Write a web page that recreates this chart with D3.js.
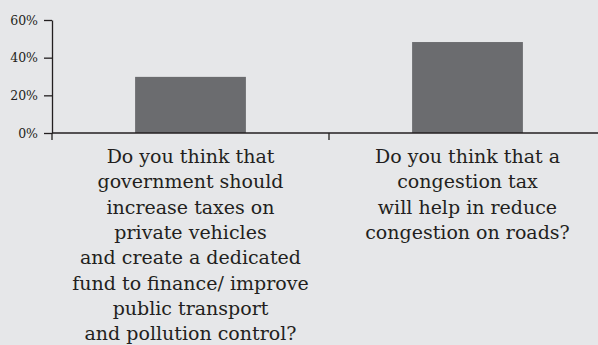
<!DOCTYPE html>
<html lang="en">
<head>
<meta charset="utf-8">
<title>Congestion tax survey</title>
<script src="https://cdn.jsdelivr.net/npm/d3@7"></script>
<style>
  body { margin: 0; background: #e6e7e9; }
  svg { display: block; }
  .axis text { font-family: "DejaVu Serif", serif; font-size: 12.5px; fill: #231f20; }
  .axis path, .axis line { stroke: #231f20; stroke-width: 1.3px; }
  .cat { font-family: "DejaVu Serif", serif; font-size: 19px; fill: #231f20; }
</style>
</head>
<body>
<div id="chart"></div>
<script>
var categories = ["q1", "q2"];
var values = [29.8, 48.3];
var labels = [
  ["Do you think that", "government should", "increase taxes on", "private vehicles",
   "and create a dedicated", "fund to finance/ improve", "public transport", "and pollution control?"],
  ["Do you think that a", "congestion tax", "will help in reduce", "congestion on roads?"]
];
var yTicks = [0, 20, 40, 60];

var width = 598, height = 345;
var margin = {left: 52, top: 20, bottom: 133};

var svg = d3.select("#chart").append("svg")
    .attr("width", width)
    .attr("height", height);

svg.append("rect").attr("width", width).attr("height", height).attr("fill", "#e6e7e9");

var x = d3.scaleBand().domain(categories).range([margin.left, 606]).padding(0);
var y = d3.scaleLinear().domain([0, 60]).range([margin.bottom, margin.top]);

// bars
svg.append("g").selectAll("rect")
    .data(values)
  .enter().append("rect")
    .attr("x", function(d, i) { return x(categories[i]) + x.bandwidth() * 0.3; })
    .attr("width", x.bandwidth() * 0.4)
    .attr("y", function(d) { return y(d); })
    .attr("height", function(d) { return y(0) - y(d); })
    .attr("fill", "#6b6c6f");

// y axis
svg.append("g")
    .attr("class", "axis")
    .attr("transform", "translate(" + margin.left + ",0)")
    .call(d3.axisLeft(y).tickValues(yTicks).tickSize(8).tickSizeOuter(0).tickPadding(6)
      .tickFormat(function(d) { return d + "%"; }));

// x axis line with ticks at band boundaries
var xAxis = svg.append("g").attr("class", "axis");
xAxis.append("line")
    .attr("x1", margin.left).attr("x2", width)
    .attr("y1", y(0)).attr("y2", y(0));
xAxis.selectAll(".bt")
    .data(categories)
  .enter().append("line")
    .attr("x1", function(d) { return x(d); })
    .attr("x2", function(d) { return x(d); })
    .attr("y1", y(0)).attr("y2", y(0) + 7);

// category labels
labels.forEach(function(lines, i) {
  var cx = x(categories[i]) + x.bandwidth() / 2;
  var t = svg.append("text")
      .attr("class", "cat")
      .attr("text-anchor", "middle");
  lines.forEach(function(l, j) {
    t.append("tspan")
      .attr("x", cx)
      .attr("y", 163 + j * 25.3)
      .text(l);
  });
});
</script>
</body>
</html>
